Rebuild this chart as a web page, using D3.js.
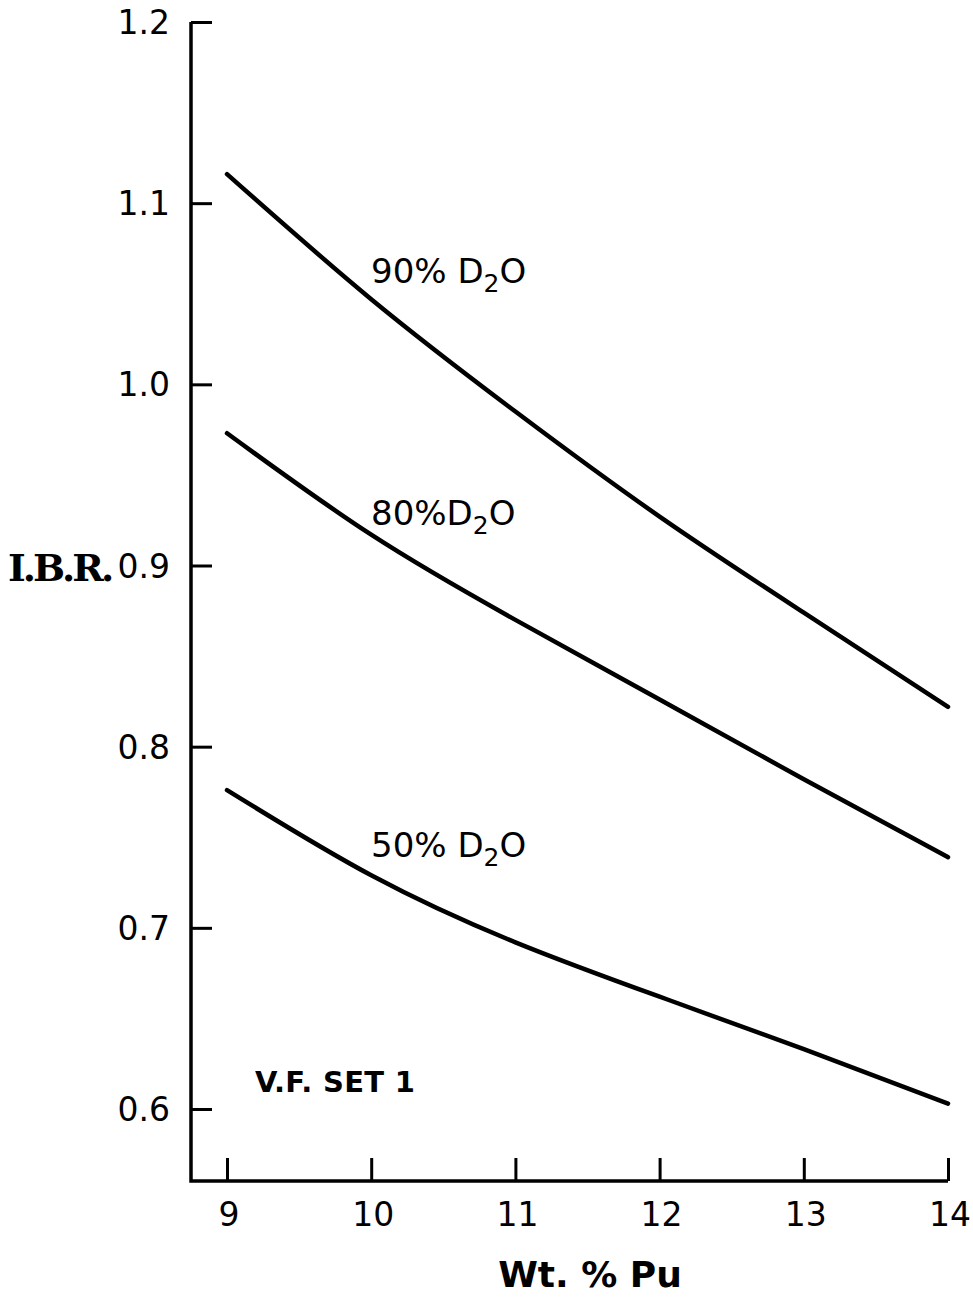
<!DOCTYPE html>
<html>
<head>
<meta charset="utf-8">
<style>
  body { margin: 0; background: #fff; }
  text { font-family: "DejaVu Sans", "Liberation Sans", sans-serif; fill: #000; }
  .axis line { stroke: #000; stroke-width: 3; }
  .curve { fill: none; stroke: #000; stroke-width: 4.5; stroke-linecap: round; }
</style>
</head>
<body>
<div id="chart"></div>
<script src="https://d3js.org/d3.v7.min.js"></script>
<script>
// ---- data ----
var wtPu = [9, 10, 11, 12, 13, 14];
var d2o90 = [1.116, 1.047, 0.985, 0.927, 0.874, 0.822];
var d2o80 = [0.973, 0.917, 0.870, 0.826, 0.782, 0.739];
var d2o50 = [0.776, 0.729, 0.692, 0.662, 0.633, 0.603];
var yTicks = [0.6, 0.7, 0.8, 0.9, 1.0, 1.1, 1.2];
var xTicks = [9, 10, 11, 12, 13, 14];

var width = 973, height = 1298;

var svg = d3.select("#chart").append("svg")
  .attr("width", width)
  .attr("height", height);

var x = d3.scaleLinear().domain([9, 14]).range([227, 948]);
var y = d3.scaleLinear().domain([0.6, 1.2]).range([1109, 22]);
var axisX0 = 191, axisY0 = 1181;

// frame: left axis line and bottom axis line
svg.append("path")
  .attr("d", "M" + axisX0 + "," + y(1.2) + "V" + axisY0 + "H" + x(14))
  .style("fill", "none").style("stroke", "#000").style("stroke-width", 3.5);

// y axis ticks (pointing into the plot)
var yAxis = svg.append("g")
  .attr("class", "axis")
  .attr("transform", "translate(" + axisX0 + ",0)")
  .call(d3.axisRight(y).tickValues(yTicks).tickSize(21).tickFormat(""));
yAxis.select(".domain").remove();

yTicks.forEach(function(t) {
  svg.append("text")
    .attr("x", 170)
    .attr("y", y(t) + 12)
    .attr("text-anchor", "end")
    .style("font-size", "33px")
    .text(d3.format(".1f")(t));
});

// x axis ticks (pointing up)
var xAxis = svg.append("g")
  .attr("class", "axis")
  .attr("transform", "translate(0," + axisY0 + ")")
  .call(d3.axisTop(x).tickValues(xTicks).tickSize(23).tickFormat(""));
xAxis.select(".domain").remove();

xTicks.forEach(function(t) {
  svg.append("text")
    .attr("x", x(t) + 2)
    .attr("y", 1226)
    .attr("text-anchor", "middle")
    .style("font-size", "33px")
    .text(t);
});

// axis titles
svg.append("text")
  .attr("x", 8).attr("y", 581)
  .style("font-size", "38px").style("font-weight", "bold")
  .style("font-family", "'DejaVu Serif', 'Liberation Serif', serif")
  .style("letter-spacing", "-3px")
  .text("I.B.R.");

svg.append("text")
  .attr("x", 590).attr("y", 1287)
  .attr("text-anchor", "middle")
  .style("font-size", "36px").style("font-weight", "bold")
  .text("Wt. % Pu");

// curves
var line = d3.line()
  .x(function(d, i) { return x(wtPu[i]); })
  .y(function(d) { return y(d); })
  .curve(d3.curveNatural);

[d2o90, d2o80, d2o50].forEach(function(s) {
  svg.append("path").attr("class", "curve").attr("d", line(s));
});

// curve labels
function label(txt, lx, ly) {
  var t = svg.append("text").attr("x", lx).attr("y", ly).style("font-size", "34px");
  t.append("tspan").text(txt + "D");
  t.append("tspan").attr("dy", 9).style("font-size", "25px").text("2");
  t.append("tspan").attr("dy", -9).text("O");
}
label("90% ", 371, 283);
label("80%", 371, 525);
label("50% ", 371, 857);

svg.append("text")
  .attr("x", 255).attr("y", 1092)
  .attr("textLength", 160)
  .attr("lengthAdjust", "spacing")
  .style("font-size", "29px")
  .style("font-weight", "600")
  .text("V.F. SET 1");
</script>
</body>
</html>
